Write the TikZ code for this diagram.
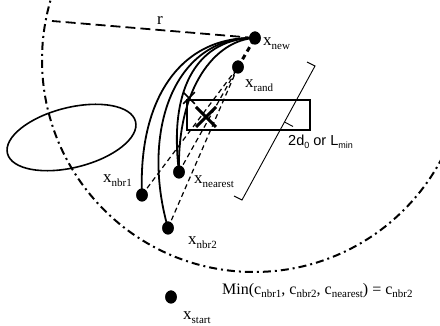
\documentclass[tikz,border=0pt]{standalone}
\usepackage{fontspec}
\setmainfont{Liberation Serif}
\newfontfamily\sansf{Liberation Sans}
\usetikzlibrary{shapes.geometric,shapes.misc}
\newcommand{\xl}[1]{{\fontsize{17}{18}\selectfont x}\raisebox{-4pt}{\fontsize{11}{12}\selectfont #1}}
\newcommand{\sbs}[1]{\raisebox{-3pt}{\fontsize{11}{12}\selectfont #1}}
\begin{document}
\begin{tikzpicture}[x=1pt,y=-1pt,
  dot/.style={ellipse,fill=black,inner sep=0pt,minimum width=11.5pt,minimum height=13pt},
  curve/.style={line width=1.8pt},
  thindash/.style={line width=1.2pt,dash pattern=on 5pt off 3.5pt},
  thickdash/.style={line width=3pt,dash pattern=on 5pt off 4pt},
  rdash/.style={line width=1.8pt,dash pattern=on 10pt off 5pt},
  ddot/.style={line width=2pt,dash pattern=on 8pt off 4pt on 2pt off 4pt},
  lbl/.style={anchor=base west,inner sep=0pt},
  xmark/.style={cross out,draw,inner sep=0pt}
]
\useasboundingbox (0,0) rectangle (440,326);
% dots (positions)
\node[dot] (new) at (255,38) {};
\node[dot] (rand) at (238,67) {};
\node[dot] (nearest) at (179,172) {};
\node[dot] (nbr1) at (142,195) {};
\node[dot] (nbr2) at (168,228) {};
\node[dot] (start) at (171,297) {};
% big dash-dot circle
\begin{scope}
\clip (0,0) rectangle (440,326);
\draw[ddot] (254,60) circle[radius=212pt];
\end{scope}
% ellipse obstacle
\node[ellipse,draw,line width=1.6pt,minimum width=132pt,minimum height=60pt,inner sep=0pt,rotate=14] (obst2) at (71.5,137.5) {};
% radius line
\coordinate (rend) at (52,21);
\draw[rdash] (new.center) -- (rend);
% curves
\draw[curve] (new.center) .. controls (180,36) and (138,100) .. (nbr1.center);
\draw[curve] (new.center) .. controls (175,36) and (140,130) .. (nbr2.center);
\draw[curve] (new.center) .. controls (200,38) and (168,85) .. (nearest.center);
\draw[curve] (new.center) .. controls (215,40) and (177,88) .. (nearest.center);
% dashed straight lines
\draw[thindash] (nbr1.center) -- (rand.center);
\draw[thindash] (nbr2.center) -- (rand.center);
\draw[thindash] (nearest.center) -- (rand.center);
\draw[thickdash] (rand.center) -- (new.center);
% rectangle obstacle
\node[draw,line width=2pt,minimum width=123pt,minimum height=30pt,inner sep=0pt] (obs) at (248.5,115) {};
% collision marks
\node[xmark,line width=1.6pt,minimum size=10pt] (xs) at (189,98) {};
\node[xmark,line width=3pt,minimum size=17pt] (xb) at (206,117) {};
% bracket
\coordinate (bt1) at (307,62);
\coordinate (bt2) at (315,66);
\coordinate (bb1) at (242,200);
\coordinate (bb2) at (234,196);
\coordinate (pm1) at (284.5,122);
\coordinate (pm2) at (293,126.5);
\draw[line width=0.9pt] (bt1) -- (bt2) -- (bb1) -- (bb2);
\draw[line width=0.9pt] (pm1) -- (pm2);
% redraw dots on top
\node[dot] at (new) {};
\node[dot] at (rand) {};
\node[dot] at (nearest) {};
\node[dot] at (nbr1) {};
\node[dot] at (nbr2) {};
\node[dot] at (start) {};
% labels
\node[lbl] (lnew) at (263,46) {\xl{new}};
\node[lbl] (lrand) at (245,88) {\xl{rand}};
\node[lbl] (lnearest) at (194,184) {\xl{nearest}};
\node[lbl] (lnbr1) at (103,183) {\xl{nbr1}};
\node[lbl] (lnbr2) at (188,245) {\xl{nbr2}};
\node[lbl] (lstart) at (183,320) {\xl{start}};
\node[lbl] (lr) at (157,25) {\fontsize{17}{18}\selectfont r};
\node[lbl] (lmin) at (222,295) {\fontsize{16}{18}\selectfont Min(c\sbs{nbr1}, c\sbs{nbr2}, c\sbs{nearest}) = c\sbs{nbr2}};
\node[lbl] (ld0) at (288,146) {\sansf\fontsize{14.5}{16}\selectfont 2d\raisebox{-2.5pt}{\fontsize{9}{10}\selectfont 0} or L\raisebox{-2.5pt}{\fontsize{9}{10}\selectfont min}};
\end{tikzpicture}
\end{document}
